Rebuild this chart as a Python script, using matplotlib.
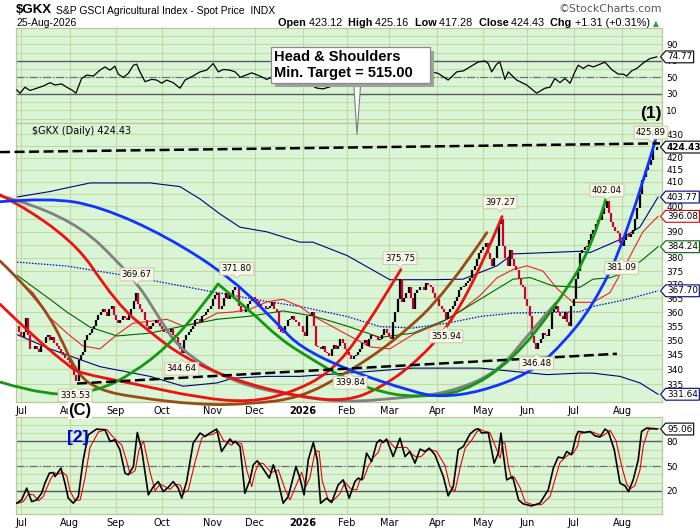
import numpy as np
import pandas as pd
import matplotlib
matplotlib.use("Agg")
import matplotlib.pyplot as plt
import matplotlib.patheffects as pe
from matplotlib.path import Path
from matplotlib.patches import PathPatch
from matplotlib.ticker import FixedLocator, FixedFormatter, NullLocator, NullFormatter

# ------------------------------------------------------------------ data
start_date = "2025-06-27"
end_date = "2026-08-25"
market_holidays = ["2025-07-04", "2025-09-01", "2025-11-27", "2025-12-25", "2026-01-01",
                   "2026-01-19", "2026-02-16", "2026-04-03", "2026-05-25", "2026-06-19",
                   "2026-07-03"]
month_labels = ["Jul", "Aug", "Sep", "Oct", "Nov", "Dec", "2026", "Feb", "Mar", "Apr",
                "May", "Jun", "Jul", "Aug"]

# daily closes (one per trading day)
closes = [
    355, 353, 351, 353, 358, 352, 347, 347, 348, 347,
    346, 348, 349, 351, 352, 350, 351, 349, 348, 347,
    346, 345, 344, 343, 342, 340, 338, 336, 343, 345,
    346, 350, 352, 352.5, 354, 355, 357, 359, 360, 361,
    360, 358.5, 361, 362, 359, 357, 356, 357, 358.5, 358,
    357, 359, 361, 364, 367, 363, 361, 360, 357, 355,
    354, 355, 356, 357, 356, 355, 354, 353, 352.5, 353,
    354, 352, 351, 349, 347, 345.5, 350, 352, 353, 354,
    355, 357, 357.4, 356.4, 358.5, 359, 360, 361, 362, 364.6,
    366, 367, 361, 362, 365, 367, 364.6, 366, 368, 369,
    369, 362, 360, 360, 361, 363, 364, 365.5, 364.6, 364,
    363, 362, 362, 361, 361.5, 362, 363.5, 361, 360, 354,
    353, 352.5, 355, 357, 357.4, 358.5, 357, 356.4, 355, 355,
    353, 351.5, 358.5, 359, 360, 355, 348, 347.7, 347, 348,
    346, 345.5, 344.7, 347, 348.5, 347, 348, 350.4, 349, 347,
    346, 345, 343.5, 344.7, 345, 346, 347, 349, 350, 348,
    350.4, 352, 351.5, 351, 350, 350.4, 352, 354, 352.5, 351,
    350.4, 356.4, 360, 364.6, 372, 363.5, 365, 367, 369, 365,
    361, 367, 368, 369, 369, 368, 370.5, 370, 369, 367,
    365, 364.6, 362, 361, 360, 357.4, 360, 361, 362, 364,
    365.5, 368, 369, 369.5, 370.5, 371.5, 372.5, 375.6, 377, 379.4,
    382, 383, 384, 385.5, 382, 379.4, 377, 380, 384.5, 393,
    395, 384.5, 380, 377, 383, 379.4, 377, 375.6, 372, 370,
    369, 364.6, 362, 358.5, 351.5, 349, 347, 349, 350.4, 352.5,
    352, 351.5, 354, 360, 361, 362, 360, 358.5, 357.4, 360,
    356.4, 355, 362, 364.6, 372, 375, 382, 383, 384, 384.5,
    387, 389, 390.8, 393, 394.7, 394.7, 397, 399.5, 402, 397.5,
    394, 392, 390.5, 389.6, 385.8, 384.5, 387, 389.6, 388, 389,
    390.8, 395, 399.5, 405, 410.7, 412, 414.9, 417, 419, 423.2,
    423.12, 424.43,
]

# RSI (trading-day position, value)
rsi_pos = [-0.1, 1.4, 3.6, 5.9, 9, 12, 15, 17.3, 20.3, 22.6, 24.9, 26.8, 29.4, 31.7, 34.7,
           37.7, 40, 42.3, 44.5, 46, 48.3, 50.6, 52.9, 54.4, 55.9, 58.2, 61.2, 63.5, 65.8,
           68, 71, 74.1, 76.4, 79.4, 83.2, 86.2, 89.2, 91.5, 93.8, 96.8, 99.1, 100.6, 101.4,
           106.7, 110.5, 113.5, 115.8, 121.8, 128.6, 133.2, 136.2, 139.1, 142.3, 146.8,
           153.6, 160.5, 167.3, 174.1, 178.6, 183.2, 188.5, 191.5, 196, 199.9, 202.9, 205.9,
           209.7, 212.7, 214.2, 215.8, 218, 219.5, 221.8, 223.3, 227.1, 231.7, 236.2, 240,
           242.3, 244.5, 246.8, 249.1, 251.4, 253.6, 255.1, 257.4, 259.7, 262, 265, 267.3,
           270.3, 273.3, 275.6, 277.1, 279.4, 281.7, 284.7, 287.7, 290.8]
rsi_val = [34.7, 30.8, 38, 34, 36.8, 39.5, 43.5, 40.7, 42, 38, 34.7, 30.8, 48.7, 52.7, 51.5,
           58.7, 62.6, 58.7, 63.5, 53.9, 49.9, 54.7, 64.7, 65.9, 56.6, 44.7, 47.5, 46.7, 42.8,
           46.7, 43.5, 36.8, 46.7, 50.7, 56.6, 58.7, 66.7, 56.6, 59.5, 58.7, 56.6, 52.7, 49.9,
           55.4, 51.5, 47.5, 50, 52, 46, 41, 37, 36, 38.5, 45,
           50, 57, 60, 65, 60, 61, 56.6, 54.7, 46.7, 56.6, 57.8, 62.6,
           68.6, 69.8, 66.7, 56.6, 65.9, 68.6, 47.5, 56.6, 46.7, 40.7, 30.8, 36.8,
           38, 48.7, 43.5, 48.7, 42.8, 56.6, 64.7, 60.7, 64.7, 62.6, 65.9, 68.3,
           59.5, 53.9, 53.9, 51.5, 57.8, 60.7, 67.4, 72.7, 74.77]

# Slow stochastic %K (trading-day position, value)
stoch_pos = [-0.1, 2.1, 4.4, 6.7, 9, 11.2, 12.7, 14.7, 16.5, 17.3, 20, 21.8, 23.3, 25.6, 27.9,
             30.1, 32.4, 36.2, 40, 42.3, 44.5, 46.8, 49.1, 50.6, 52.9, 54.7, 56.7, 59.7, 62,
             64.2, 66.5, 68.8, 71, 73.3, 74.9, 77.1, 80.1, 83.2, 85.5, 87.7, 90.8, 93, 96.8,
             98.3, 99.1, 101.4, 103.6, 105.9, 107.4, 109.2, 111.2, 114.7, 116.5, 118, 121,
             123.3, 126.8, 128.6, 130.5, 132.4, 134.7, 136.5, 138, 140.8, 143, 146, 148.3,
             151, 153.6, 155.1, 156.7, 158.9, 161.2, 163.5, 165, 166.5, 168, 171, 174.1,
             176.4, 178.6, 180.9, 183.2, 185.5, 187.4, 190, 193.8, 196, 198.3, 200.6, 202.9,
             205.9, 208.2, 209.7, 211.2, 214.2, 216.9, 218.8, 220, 221, 222.6, 224.1, 225.3,
             228, 230.1, 233.9, 237.7, 241.5, 243.8, 246, 248.3, 249.9, 252.1, 254.1, 255.1,
             258.2, 260.5, 262.7, 265, 267.3, 268.8, 271.5, 274.1, 276.4, 278, 280.1, 282.4,
             283.9, 286.2, 288.5, 290.8]
stoch_k = [5.1, 9.1, 23.3, 7, 9.1, 17.2, 29.4, 41.5, 42.3, 37.4, 47.6, 29.4, 11.2, 5.1, 13.1,
           57.7, 88.1, 95, 94.2, 80, 82, 69.9, 41.5, 39.5, 49.6, 90.9, 69.9, 15.2, 25.3,
           31.3, 19.2, 24.5, 31.3, 23.3, 11.2, 31.3, 78, 90.2, 86, 90.2, 95, 67.8, 83,
           78, 80, 73.9, 17.2, 33.4, 51.6, 56.5, 49.6, 35.5, 51.6, 39.5, 5.1,
           13.1, 49.6, 35.5, 15.2, 57.7, 78.7, 57.7, 5.1, 11.2, 5.8, 27.3, 33.4,
           11.2, 31.3, 35.5, 33.4, 65.9, 55.6, 78, 82, 78.7, 82.9, 61.7, 84,
           61.7, 67.8, 53.7, 70.7, 67.8, 71.9, 63.8, 37.4, 14, 25.3, 69.9, 73.9,
           89, 94.2, 95.4, 90.2, 90.9, 53.7, 65.9, 90.2, 65.9, 33.4, 35.5, 37.4,
           9.1, 4.3, 1.8, 5.1, 21.3, 47.6, 61, 59.8, 67.8, 63.8, 86, 92.1,
           90.9, 92.1, 86.9, 85.3, 95, 92.1, 69.9, 29.4, 26.1, 19.2, 33.4, 57.7,
           92.1, 96.2, 95.7, 95.06]

# overlays on the price panel (knots)
ma_red_pos = [0, 7.3, 15, 22.7, 30, 37.7, 45.5, 52.7, 68.2, 75.5, 83.2, 90.9, 98.2, 105.9, 113.6,
              120.9, 128.6, 134.5, 150, 160.5, 169.5, 180, 192.3, 202.7, 210.5, 218.2, 225.5,
              231.8, 239.1, 245.5, 252.7, 261.8, 269.5, 277.3, 284.5, 291.4]
ma_red_val = [372, 367, 358, 352.5, 348, 347, 352, 356, 357.4, 355, 356.4, 359.6, 360, 361, 363.7,
              364.6, 362, 358.6, 352, 347.7, 347, 352, 356, 361, 366, 372.5, 375.6,
              377, 375, 368.5, 363.5, 363.5, 367, 378.5, 390, 396.08]
ma_green_pos = [0, 15, 22.7, 33.2, 45.5, 60.5, 75.5, 90.9, 105.9, 120.9, 134.5, 150, 165, 180,
                195.5, 210.5, 225.5, 233.2, 243.6, 255.9, 261.8, 269.5, 277.3, 284.5, 291.4]
ma_green_val = [373.5, 364.6, 360, 354.6, 351.5, 352.5, 355, 357.4, 358.5, 360.4, 358.6, 355, 351,
                352.5, 357.4, 364.6, 372, 372.6, 369.5, 369, 372, 372.5, 374.8, 379.4, 384.24]
band_mid_pos = [0, 22.7, 52.7, 83.2, 113.6, 128.6, 150, 165, 180, 195.5, 210.5, 225.5, 255.9,
                261.8, 277.3, 291.4]
band_mid_val = [378.4, 376.9, 372.9, 368.2, 363.8, 362, 358.4, 354.8, 354.3, 356, 358.4, 359.6,
                360.1, 362, 364.6, 367.7]
band_up_pos = [0, 15, 22.7, 33.2, 45.5, 60.5, 74.1, 83.2, 92.3, 101.4, 113.6, 128.6, 134.5, 150,
               169.5, 187.7, 202.7, 218.2, 225.5, 240.9, 255.9, 260.5, 274.1, 283.2, 291.4]
band_up_val = [403.8, 406, 407.5, 409.5, 409.5, 409.5, 408, 403, 397, 391.8, 390, 386, 386, 380.9,
               371.8, 371.8, 372, 377, 381.5, 382, 382.5, 382, 387, 391.9, 403.77]
band_lo_pos = [0, 15, 37.7, 60.5, 75.5, 90.9, 98.2, 113.6, 128.6, 150, 180, 210.5, 225.5, 240.9,
               255.9, 261.8, 274.1, 283.2, 291.4]
band_lo_val = [352, 347, 340.9, 337.6, 334.3, 335.4, 337, 337.6, 337.6, 338.7, 340.4, 340.4,
               339.3, 338.2, 338.7, 338.7, 337.6, 335.4, 331.64]

# cycle arcs
arc_blue_pos = [-7.7, 15, 37.7, 68.2, 98.2, 119.5, 128.6, 150, 180, 192.3, 210.5, 233.2, 246.8,
                261.8, 277.3, 290.5]
arc_blue_val = [401.9, 403.5, 400.0, 388.2, 372.0, 354.9, 347.7, 339.8, 332.4, 330.7, 332.4,
                338.7, 347.7, 362.1, 388.2, 428.3]
arc_gray_pos = [-7.7, 22.7, 52.7, 65, 74.1, 98.2, 128.6, 150, 174.1, 195.5, 218.2, 233.2, 245]
arc_gray_val = [404.3, 397.4, 373.2, 357.4, 346.6, 335.4, 330.7, 329.0, 330.4, 332.0, 338.7,
                352.8, 363.3]
arc_redA_pos = [-7.7, 22.7, 45.5, 60.5, 75.5, 98.2, 128.6, 150, 165, 180, 195.5, 210.5, 220.5]
arc_redA_val = [404.7, 390.8, 362.8, 352.8, 344.2, 336.4, 330.7, 329.3, 333.7, 341.5, 353.9,
                375.6, 396.0]
arc_redB_pos = [-7.7, 7.3, 24.1, 28.6, 52.7, 83.2, 105.9, 124.1, 142.3, 157.3, 174.5]
arc_redB_val = [362.8, 351.4, 340.8, 338.7, 335.2, 330.4, 329.0, 332.0, 338.7, 352.8, 375.6]
arc_brown_pos = [-7.7, 5.9, 17.3, 27.3, 37.7, 52.7, 83.2, 105.9, 128.6, 150, 172.7, 195.5, 213.6]
arc_brown_val = [378.8, 368.0, 355.4, 338.1, 333.0, 330.7, 328.1, 328.4, 330.4, 338.7, 350.4,
                 367.3, 389.7]
arc_green1_pos = [-7.7, 15, 37.7, 52.7, 68.2, 83.2, 91.4]
arc_green1_val = [335.7, 330.7, 333.0, 338.7, 347.7, 361.0, 370.2]
arc_green2_pos = [91.4, 106, 119.5, 134.5, 150, 165, 180, 202.7, 225.5, 245.5, 261.8, 268.2]
arc_green2_val = [370.2, 360.5, 350.4, 343.2, 336.4, 332.4, 330.7, 332.0, 343.2, 362.8, 384.4,
                  404.7]

trend_top_pos = [-7.7, 292.3]
trend_top_val = [422.3, 426.0]
trend_low_pos = [27.3, 272.7]
trend_low_val = [335.2, 345.3]

peak_pos = [54.5, 99.9, 174.1, 219.6, 268.2, 288.2]
peak_val = [369.67, 371.80, 375.75, 397.27, 402.04, 425.89]
trough_pos = [26.4, 74.9, 151.4, 195.0, 236.2, 274.9]
trough_val = [335.53, 344.64, 339.84, 355.94, 346.48, 381.09]

price_ticks = list(range(335, 431, 5))
hidden_ticks = [425, 405, 395, 385]          # covered by the value tags
price_tags = [424.43, 403.77, 396.08, 384.24, 367.70, 331.64]
price_tag_colors = ["#000000", "#000080", "#dd0000", "#006400", "#000080", "#000080"]

# ------------------------------------------------------------------ helpers
FIG_W, FIG_H = 700, 530
BG = "#d9f5d5"
GRID = "#c3d9a5"
FRAME = "#bfc79a"


def fx(px):
    return px / FIG_W


def fy(py):
    return 1 - py / FIG_H


def tag_left(x0, y0, width, height, mutation_size):
    pad = 0.16 * mutation_size
    x0, y0 = x0 - pad, y0 - pad
    w, h = width + 2 * pad, height + 2 * pad
    t = 0.42 * h
    verts = [(x0, y0), (x0 + w, y0), (x0 + w, y0 + h), (x0, y0 + h), (x0 - t, y0 + h / 2), (x0, y0)]
    codes = [Path.MOVETO] + [Path.LINETO] * 4 + [Path.CLOSEPOLY]
    return Path(verts, codes)


def label_down(x0, y0, width, height, mutation_size):
    pad = 0.22 * mutation_size
    x0, y0 = x0 - pad, y0 - pad
    w, h = width + 2 * pad, height + 2 * pad
    cx, t = x0 + w / 2, 0.35 * mutation_size
    verts = [(x0, y0), (cx - t, y0), (cx, y0 - t), (cx + t, y0), (x0 + w, y0), (x0 + w, y0 + h),
             (x0, y0 + h), (x0, y0)]
    codes = [Path.MOVETO] + [Path.LINETO] * 6 + [Path.CLOSEPOLY]
    return Path(verts, codes)


def label_up(x0, y0, width, height, mutation_size):
    pad = 0.22 * mutation_size
    x0, y0 = x0 - pad, y0 - pad
    w, h = width + 2 * pad, height + 2 * pad
    cx, t = x0 + w / 2, 0.35 * mutation_size
    top = y0 + h
    verts = [(x0, y0), (x0 + w, y0), (x0 + w, top), (cx + t, top), (cx, top + t), (cx - t, top),
             (x0, top), (x0, y0)]
    codes = [Path.MOVETO] + [Path.LINETO] * 6 + [Path.CLOSEPOLY]
    return Path(verts, codes)


def callout_box(x0, y0, width, height, mutation_size):
    pad = 0.2 * mutation_size
    x0, y0 = x0 - pad, y0 - pad
    w, h = width + 2 * pad + 1.0 * mutation_size, height + 2 * pad
    verts = [(x0, y0), (x0 + w, y0), (x0 + w, y0 + h), (x0, y0 + h), (x0, y0)]
    codes = [Path.MOVETO] + [Path.LINETO] * 3 + [Path.CLOSEPOLY]
    return Path(verts, codes)


def draw_arc(ax, pos, val, color, lw=2.0, z=4):
    x = np.asarray(pos, float)
    ly = np.log(np.asarray(val, float))
    n = len(x)
    verts = [(x[0], ly[0])]
    codes = [Path.MOVETO]
    for k in range(1, n - 1):
        verts.append((x[k], ly[k]))
        codes.append(Path.CURVE3)
        if k < n - 2:
            verts.append(((x[k] + x[k + 1]) / 2, (ly[k] + ly[k + 1]) / 2))
        else:
            verts.append((x[k + 1], ly[k + 1]))
        codes.append(Path.CURVE3)
    v = np.array(verts)
    v[:, 1] = np.exp(v[:, 1])
    ax.add_patch(PathPatch(Path(v, codes), fill=False, edgecolor=color, lw=lw, zorder=z,
                           clip_on=False, capstyle="round", joinstyle="round"))


def style_panel(ax, month_pos):
    ax.set_facecolor(BG)
    for s in ax.spines.values():
        s.set_color(FRAME)
        s.set_linewidth(0.9)
    ax.set_xticks(month_pos)
    ax.grid(axis="both", color=GRID, lw=0.8, zorder=0)
    ax.set_axisbelow(True)
    ax.tick_params(axis="both", length=0, labelsize=6.5, pad=3, colors="black")
    ax.tick_params(axis="y", labelleft=False, labelright=True)
    ax.yaxis.set_minor_locator(NullLocator())
    ax.yaxis.set_minor_formatter(NullFormatter())


def value_tag(ax, value, text, ec, bold=False):
    ax.annotate(text, xy=(1.0, value), xycoords=("axes fraction", "data"),
                xytext=(5, 0), textcoords="offset pixels", ha="left", va="center",
                fontsize=6.4, fontweight="bold" if bold else "normal", color="black",
                annotation_clip=False, zorder=8,
                bbox=dict(boxstyle=tag_left, fc="white", ec=ec, lw=0.8))


plt.rcParams["font.family"] = ["DejaVu Sans"]

# ------------------------------------------------------------------ calendar
days = pd.bdate_range(start_date, end_date, freq="C", holidays=market_holidays)
n = min(len(days), len(closes))
pos = np.arange(n)
cl = np.asarray(closes[:n], float)
month_key = days[:n].to_period("M")
month_pos = [int(np.argmax(month_key == m)) for m in month_key.unique()][1:]
month_pos = month_pos[:len(month_labels)]
XLIM = (-0.45, 293.2)

fig = plt.figure(figsize=(FIG_W / 100, FIG_H / 100), dpi=100)
fig.patch.set_facecolor("white")
W = (662 - 16) / FIG_W
ax_rsi = fig.add_axes([fx(16), fy(123), W, 95 / FIG_H])
ax = fig.add_axes([fx(16), fy(402), W, 279 / FIG_H])
ax_st = fig.add_axes([fx(16), fy(514.3), W, 97 / FIG_H])

# ------------------------------------------------------------------ RSI panel
style_panel(ax_rsi, month_pos)
ax_rsi.set_xlim(*XLIM)
ax_rsi.set_ylim(-5.4, 109.8)
ax_rsi.yaxis.set_major_locator(FixedLocator(list(range(0, 101, 10))))
ax_rsi.yaxis.set_major_formatter(FixedFormatter(["", "10", "", "30", "", "50", "", "70", "", "90", ""]))
ax_rsi.tick_params(axis="x", labelbottom=False)
ax_rsi.axhline(70, color="#5a5a5a", lw=1.0, zorder=1)
ax_rsi.axhline(30, color="#5a5a5a", lw=1.0, zorder=1)
ax_rsi.axhline(50, color="#707070", lw=0.9, ls="-.", zorder=1)
ax_rsi.plot(rsi_pos, rsi_val, color="black", lw=0.9, zorder=3)
value_tag(ax_rsi, rsi_val[-1], f"{rsi_val[-1]:.2f}", "black")

# ------------------------------------------------------------------ price panel
style_panel(ax, month_pos)
ax.set_yscale("log")
ax.yaxis.set_major_locator(FixedLocator(price_ticks))
ax.yaxis.set_major_formatter(FixedFormatter(["" if v in hidden_ticks else str(v)
                                             for v in price_ticks]))
ax.yaxis.set_minor_locator(NullLocator())
ax.yaxis.set_minor_formatter(NullFormatter())
ax.set_xticklabels(month_labels)

opens = np.concatenate([[cl[0]], cl[:-1]])
cols = np.where(cl >= opens, "black", "#cc0033")
lo = np.minimum(opens, cl)
hi = np.maximum(opens, cl)
ax.vlines(pos, lo, hi, colors=cols, lw=1.6, zorder=3)

ax.plot(band_up_pos, band_up_val, color="#000080", lw=0.8, zorder=2.5)
ax.plot(band_lo_pos, band_lo_val, color="#000080", lw=0.8, zorder=2.5)
ax.plot(band_mid_pos, band_mid_val, color="#0000cc", lw=0.9, ls=(0, (1.2, 1.2)), zorder=2.5)
ax.plot(ma_red_pos, ma_red_val, color="#ee2222", lw=0.8, zorder=2.5)
ax.plot(ma_green_pos, ma_green_val, color="#006400", lw=0.8, zorder=2.5)

draw_arc(ax, arc_gray_pos, arc_gray_val, "#808080")
draw_arc(ax, arc_brown_pos, arc_brown_val, "#9a4a14")
draw_arc(ax, arc_redB_pos, arc_redB_val, "#ee1111")
draw_arc(ax, arc_redA_pos, arc_redA_val, "#ee1111")
draw_arc(ax, arc_green1_pos, arc_green1_val, "#119911")
draw_arc(ax, arc_green2_pos, arc_green2_val, "#119911")
draw_arc(ax, arc_blue_pos, arc_blue_val, "#1133ff")

ax.plot(trend_top_pos, trend_top_val, color="black", lw=1.8, ls=(0, (4, 1.8)), zorder=5,
        clip_on=False)
ax.plot(trend_low_pos, trend_low_val, color="black", lw=1.8, ls=(0, (4, 1.8)), zorder=5)

lab_bbox_d = dict(boxstyle=label_down, fc="#f8f8ea", ec="#c9c9a8", lw=0.7)
lab_bbox_u = dict(boxstyle=label_up, fc="#f8f8ea", ec="#c9c9a8", lw=0.7)
for p, v in zip(peak_pos, peak_val):
    ax.annotate(f"{v:.2f}", xy=(p, v), xytext=(0, 11), textcoords="offset pixels",
                ha="center", va="center", fontsize=6.2, zorder=7, annotation_clip=False,
                bbox=lab_bbox_d)
for p, v in zip(trough_pos, trough_val):
    ax.annotate(f"{v:.2f}", xy=(p, v), xytext=(0, -13), textcoords="offset pixels",
                ha="center", va="center", fontsize=6.2, zorder=7, annotation_clip=False,
                bbox=lab_bbox_u)

for v, c in zip(price_tags, price_tag_colors):
    value_tag(ax, v, f"{v:.2f}", c, bold=(v == price_tags[0]))

ax.set_xlim(*XLIM)
ax.set_ylim(329.08, 434.75)

# head & shoulders callout
callout_text = "Head & Shoulders\nMin. Target = 515.00"
tip = (154.55, 428.7)
note = ax.annotate(callout_text, xy=tip, xytext=(-83, 72), textcoords="offset pixels", ha="left",
                   va="center", fontsize=10.5, fontweight="bold", family="Liberation Sans",
                   color="black", linespacing=1.25, zorder=10, annotation_clip=False,
                   bbox=dict(boxstyle=callout_box, fc="white", ec="#8a8a8a", lw=0.9),
                   arrowprops=dict(arrowstyle="wedge,tail_width=0.45,shrink_factor=0.5",
                                   fc="white", ec="#7a7a7a", lw=0.8, relpos=(0.6, 0.0)))
note.get_bbox_patch().set_path_effects([
    pe.SimplePatchShadow(offset=(3, -3), shadow_rgbFace="#a0a0a0", alpha=1.0), pe.Normal()])

# ------------------------------------------------------------------ stochastic panel
style_panel(ax_st, month_pos)
ax_st.set_xlim(*XLIM)
ax_st.set_ylim(-8.4, 109.3)
ax_st.yaxis.set_major_locator(FixedLocator(list(range(0, 101, 10))))
ax_st.yaxis.set_major_formatter(FixedFormatter(["", "", "20", "", "", "50", "", "", "80", "", ""]))
ax_st.set_xticklabels(month_labels)
ax_st.axhline(80, color="#5a5a5a", lw=1.0, zorder=1)
ax_st.axhline(20, color="#5a5a5a", lw=1.0, zorder=1)
ax_st.axhline(50, color="#707070", lw=0.9, ls="-.", zorder=1)
stoch_d = pd.Series(stoch_k).rolling(2, min_periods=1).mean().to_numpy()
ax_st.plot(np.asarray(stoch_pos) + 0.8, stoch_d, color="#ee0000", lw=0.8, zorder=3)
ax_st.plot(stoch_pos, stoch_k, color="black", lw=1.2, zorder=4)
value_tag(ax_st, stoch_k[-1], f"{stoch_k[-1]:.2f}", "black")

for a in (ax, ax_st):
    for t in a.get_xticklabels():
        t.set_fontsize(7)
        if t.get_text() == "2026":
            t.set_fontweight("bold")

# ------------------------------------------------------------------ header texts
fig.text(fx(16), fy(10), r"\$GKX", fontsize=9.5, fontweight="bold",
         family="Liberation Sans", va="center")
fig.text(fx(56), fy(10.5), "S&P GSCI Agricultural Index - Spot Price  INDX", fontsize=7.5,
         family="Liberation Sans", va="center")
fig.text(fx(662), fy(9.5), "\u00a9StockCharts.com", fontsize=7.8, family="DejaVu Sans",
         color="#555555", va="center", ha="right")
fig.text(fx(16), fy(23.5), "25-Aug-2026", fontsize=7.5, family="Liberation Sans", va="center")

renderer = fig.canvas.get_renderer()
pieces = [("Open ", "bold"), ("423.12  ", "normal"), ("High ", "bold"), ("425.16  ", "normal"),
          ("Low ", "bold"), ("417.28  ", "normal"), ("Close ", "bold"), ("424.43  ", "normal"),
          ("Chg ", "bold"), ("+1.31 (+0.31%) ", "normal")]
xcur = 278
for s, w in pieces:
    t = fig.text(fx(xcur), fy(23.5), s, fontsize=7.8, fontweight=w, family="Liberation Sans",
                 va="center")
    bb = t.get_window_extent(renderer=renderer)
    xcur += bb.width
fig.text(fx(xcur), fy(23.5), "\u25b2", fontsize=5.5, color="#2e9e2e", va="center")

fig.text(fx(32), fy(131), r"\$GKX (Daily) 424.43", fontsize=7, va="center", zorder=20)
fig.text(fx(651), fy(113), "(1)", fontsize=12.5, fontweight="bold", family="Liberation Sans",
         ha="center", va="center")
fig.text(fx(80), fy(410.5), "(C)", fontsize=12, fontweight="bold", family="Liberation Sans",
         ha="center", va="center",
         bbox=dict(boxstyle="square,pad=0.05", fc="white", ec="none"))
fig.text(fx(78), fy(437.5), "[2]", fontsize=12.5, fontweight="bold", family="Liberation Sans",
         color="#0000dd", ha="center", va="center")

fig.savefig("out.png", dpi=100, facecolor="white")
